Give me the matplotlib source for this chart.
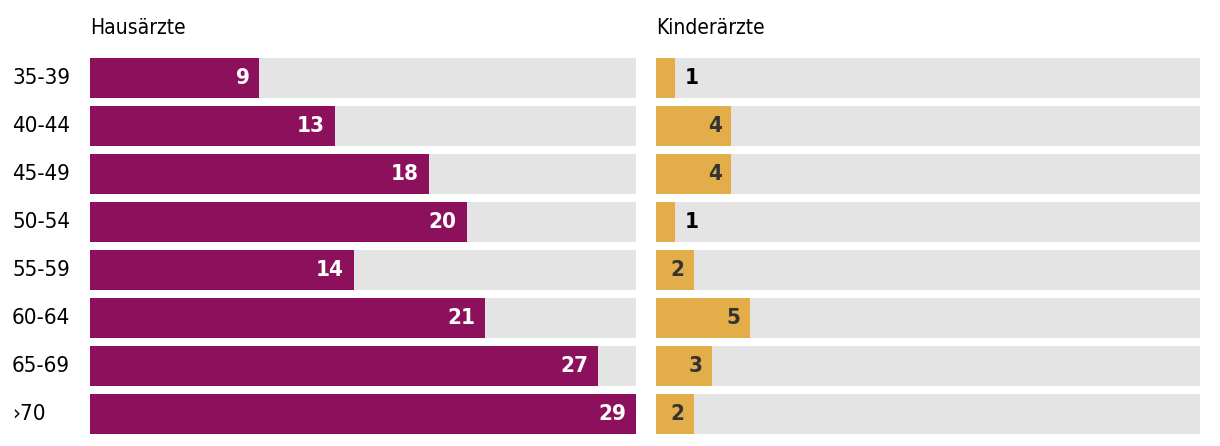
import matplotlib
matplotlib.use('Agg')
import matplotlib.pyplot as plt

plt.rcParams['font.family'] = ['DejaVu Sans']
plt.rcParams['font.stretch'] = 'condensed'

age_groups = ['35-39', '40-44', '45-49', '50-54', '55-59', '60-64', '65-69', '›70']
hausaerzte = [9, 13, 18, 20, 14, 21, 27, 29]
kinderaerzte = [1, 4, 4, 1, 2, 5, 3, 2]
titles = ['Hausärzte', 'Kinderärzte']

PURPLE = '#8c105b'
GOLD = '#e3ae4a'
GREY = '#e4e4e4'
X_MAX = 29

W, H = 1220, 446
fig = plt.figure(figsize=(W / 100, H / 100), dpi=100)

panels = [
    (hausaerzte, PURPLE, 'white', 90, 636),
    (kinderaerzte, GOLD, '#333333', 656, 1200),
]
y_pos = list(range(len(age_groups)))

for k, (values, color, txt_color, x0, x1) in enumerate(panels):
    ax = fig.add_axes([x0 / W, 8 / H, (x1 - x0) / W, 384 / H])
    xmax = X_MAX * (x1 - x0) / 546
    ax.barh(y_pos, [xmax] * len(values), height=40 / 48, color=GREY)
    ax.barh(y_pos, values, height=40 / 48, color=color)
    ax.set_xlim(0, xmax)
    ax.set_ylim(len(values) - 0.5, -0.5)
    ax.axis('off')
    for i, v in enumerate(values):
        if v < 2:
            # zu kurz -> Zahl neben dem Balken
            ax.annotate(str(v), (v, i), xytext=(7, 0), textcoords='offset points',
                        ha='left', va='center', fontsize=16, fontweight='bold', color='black')
        else:
            ax.annotate(str(v), (v, i), xytext=(-7, 0), textcoords='offset points',
                        ha='right', va='center', fontsize=16, fontweight='bold', color=txt_color)
    fig.text(x0 / W, 1 - 28 / H, titles[k], ha='left', va='center', fontsize=15)

for i, lab in enumerate(age_groups):
    fig.text(12 / W, 1 - (78 + 48 * i) / H, lab, ha='left', va='center', fontsize=16)

fig.savefig('out.png', dpi=100, facecolor='white')
